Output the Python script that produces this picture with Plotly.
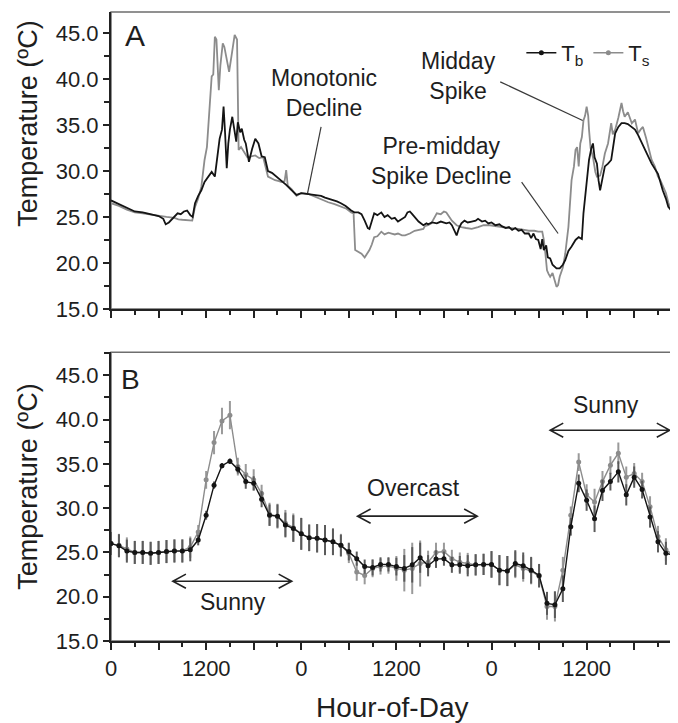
import plotly.graph_objects as go

# ---------------- Panel A: raw time series ----------------
hours_tb_a = [0.0, 1.0, 2.0, 3.0, 4.0, 5.0, 6.0, 6.6, 6.9, 7.3, 7.6, 8.0, 8.4, 8.8, 9.2, 9.6, 10.0, 10.3,
              10.6, 11.0, 11.4, 11.8, 12.2, 12.7, 13.1, 13.4, 13.7, 14.0, 14.2, 14.4, 14.6, 14.8, 15.0, 15.3,
              15.6, 15.8, 16.0, 16.3, 16.5, 16.8, 17.0, 17.4, 17.8, 18.2, 18.6, 19.0, 19.4, 19.8, 20.3, 20.7,
              21.1, 21.5, 22.1, 22.8, 23.4, 24.0, 24.9, 25.7, 26.5, 27.0, 27.4, 28.0, 28.5, 29.0, 29.6, 30.3,
              30.7, 31.2, 31.6, 32.0, 32.4, 32.6, 32.9, 33.2, 33.6, 34.1, 34.5, 34.9, 35.4, 35.8, 36.2, 36.6,
              37.1, 37.4, 37.7, 38.0, 38.3, 38.8, 39.4, 39.8, 40.0, 40.5, 41.1, 41.6, 42.3, 42.7, 43.0, 43.4,
              43.6, 43.9, 44.2, 44.6, 45.0, 45.5, 46.0, 46.3, 46.8, 47.2, 47.6, 48.0, 48.5, 49.0, 49.3, 49.8,
              50.2, 50.6, 51.0, 51.4, 51.8, 52.2, 52.7, 53.0, 53.3, 53.6, 53.9, 54.2, 54.4, 54.6, 54.9, 55.1,
              55.4, 55.7, 56.0, 56.2, 56.6, 57.0, 57.3, 57.7, 58.1, 58.6, 59.0, 59.4, 59.6, 60.0, 60.3, 60.6,
              60.8, 61.0, 61.3, 61.5, 61.7, 62.0, 62.3, 62.7, 63.1, 63.6, 64.0, 64.4, 64.8, 65.2, 65.7, 66.1,
              66.5, 66.8, 67.1, 67.6, 68.2, 68.6, 69.0, 69.3, 69.6, 70.0, 70.3, 70.6, 70.9, 71.2, 71.5]
tb_a = [26.8, 26.4, 26.0, 25.6, 25.5, 25.3, 25.1, 24.8, 24.2, 24.4, 24.7, 25.0, 25.4, 25.3, 25.6, 25.7, 25.2, 25.0,
        26.5, 27.3, 27.9, 28.8, 29.3, 29.9, 29.4, 31.5, 33.5, 34.5, 37.0, 34.0, 30.3, 33.0, 34.5, 35.9,
        34.5, 33.2, 35.3, 34.2, 34.6, 33.4, 33.0, 31.0, 32.4, 33.5, 33.0, 31.6, 31.5, 30.0, 29.8, 29.5,
        29.3, 29.0, 28.5, 27.9, 27.4, 27.6, 27.5, 27.4, 27.3, 27.1, 27.0, 26.9, 26.7, 26.5, 26.2, 25.7,
        25.5, 25.5, 25.3, 24.6, 23.8, 23.7, 24.6, 25.4, 25.2, 25.5, 25.0, 25.2, 24.8, 24.9, 24.5, 24.7,
        25.0, 25.5, 25.6, 25.3, 25.0, 24.5, 24.1, 24.3, 24.2, 24.4, 24.3, 24.5, 24.3, 24.4, 24.1, 23.4,
        23.0, 23.8, 24.3, 24.6, 24.4, 24.5, 24.6, 24.8, 24.5, 24.6, 24.3, 24.4, 24.1, 24.2, 24.0, 23.8,
        23.9, 23.6, 23.8, 23.5, 23.6, 23.2, 23.2, 22.7, 23.2, 22.6, 22.5, 21.5, 22.6, 21.4, 21.9, 20.6,
        20.5, 19.8, 19.6, 19.4, 19.4, 19.8, 20.3, 21.3, 21.8, 22.5, 22.8, 22.6, 25.4, 29.0, 31.2, 32.5,
        33.0, 31.5, 30.8, 29.0, 27.9, 29.2, 30.5, 30.8, 31.2, 34.1, 34.8, 35.2, 35.2, 35.1, 34.8, 34.5,
        33.9, 33.4, 32.8, 31.9, 30.8, 30.3, 29.7, 28.8, 27.9, 27.0, 26.1, 25.8, 25.4, 25.8, 26.1]

hours_ts_a = [0.0, 1.0, 2.0, 3.0, 4.0, 5.0, 6.0, 7.0, 8.0, 8.5, 9.0, 9.7, 10.25, 10.6, 11.0, 11.4, 11.8, 12.1,
              12.4, 12.7, 12.9, 13.1, 13.3, 13.6, 13.8, 14.1, 14.3, 14.6, 14.9, 15.2, 15.6, 15.9, 16.1, 16.4,
              16.8, 17.2, 17.7, 18.2, 18.7, 19.2, 19.8, 20.3, 20.7, 21.2, 21.5, 21.9, 22.1, 22.3, 22.8, 23.4,
              24.0, 24.9, 25.7, 26.5, 27.4, 28.2, 29.0, 29.7, 30.3, 30.6, 30.8, 31.2, 31.6, 32.0, 32.3, 32.6,
              32.9, 33.2, 33.6, 34.1, 34.5, 35.0, 35.4, 35.8, 36.2, 36.7, 37.1, 37.7, 38.3, 38.8, 39.4, 39.6,
              40.0, 40.4, 40.8, 41.1, 41.6, 42.0, 42.3, 42.7, 43.0, 43.6, 44.2, 44.8, 45.5, 46.3, 47.0, 47.8,
              48.5, 49.3, 50.2, 51.4, 52.2, 52.7, 53.4, 53.9, 54.4, 54.6, 54.8, 55.0, 55.2, 55.4, 55.7, 56.0,
              56.2, 56.4, 56.6, 57.0, 57.3, 57.7, 58.1, 58.4, 58.6, 58.8, 59.0, 59.2, 59.4, 59.6, 59.8, 60.0,
              60.2, 60.3, 60.5, 60.8, 61.1, 61.3, 61.7, 62.0, 62.3, 62.7, 63.1, 63.3, 63.6, 64.0, 64.4, 64.6,
              64.8, 65.2, 65.7, 66.1, 66.5, 66.8, 67.1, 67.5, 68.2, 68.6, 69.0, 69.3, 69.6, 70.0, 70.3, 70.6,
              70.9, 71.2, 71.5]
ts_a = [26.5, 26.2, 25.8, 25.5, 25.4, 25.25, 25.1, 25.0, 24.9, 24.75, 24.7, 24.6, 24.6, 26.1, 27.0, 28.3, 31.2, 32.6,
        36.0, 40.3, 40.5, 44.6, 44.3, 38.8, 41.5, 43.9, 43.5, 42.0, 40.8, 42.5, 44.8, 44.3, 32.3, 32.6,
        32.1, 31.5, 31.6, 31.7, 31.4, 31.5, 29.4, 29.2, 29.0, 28.9, 28.8, 28.9, 30.1, 28.4, 28.0, 27.3,
        27.6, 27.5, 27.2, 26.9, 26.6, 26.4, 26.1, 25.9, 25.5, 25.4, 21.4, 21.2, 21.0, 20.6, 21.0, 21.4,
        22.0, 22.8, 22.9, 23.4, 23.1, 23.3, 23.2, 23.1, 23.2, 23.0, 23.0, 23.2, 23.5, 23.6, 23.7, 24.0,
        24.1, 24.3, 25.0, 25.4, 25.3, 25.6, 25.5, 24.9, 24.6, 24.1, 23.9, 23.8, 23.7, 23.9, 24.1, 24.1,
        24.0, 23.9, 23.8, 23.7, 23.6, 23.5, 23.5, 23.4, 23.4, 22.5, 21.0, 19.2, 18.8, 18.5, 18.9, 17.8,
        17.4, 17.6, 18.5, 19.5, 21.0, 23.9, 29.0, 30.5, 32.3, 32.6, 30.5, 33.0, 33.7, 35.5, 36.0, 37.0,
        36.0, 34.5, 32.5, 31.5, 29.9, 29.4, 29.5, 30.5, 31.9, 33.0, 35.2, 34.0, 34.5, 35.8, 37.4, 36.5,
        35.9, 36.4, 35.2, 35.6, 34.1, 34.5, 34.8, 33.6, 31.2, 30.5, 29.4, 29.0, 28.3, 27.6, 26.6, 25.8,
        25.0, 25.2, 25.5]

# ---------------- Panel B: hourly means +/- error ----------------
hours_b = list(range(72))
tb_b = [26.0, 25.75, 25.15, 25.0, 25.0, 24.9, 25.0, 25.1, 25.15, 25.15, 25.3, 26.4, 29.2, 32.6, 34.8, 35.3,
        34.4, 33.0, 32.8, 31.0, 29.2, 29.1, 28.1, 27.7,
        27.1, 26.65, 26.6, 26.4, 26.2, 25.8, 25.1, 24.3, 23.4, 23.3, 23.65, 23.65, 23.4, 23.2, 23.6, 24.4,
        23.5, 24.25, 24.3, 23.6, 23.6, 23.5, 23.6, 23.65,
        23.65, 23.0, 22.9, 23.75, 23.5, 23.0, 22.4, 19.25, 19.1, 20.9, 27.9, 32.8, 30.9, 28.8, 32.0, 33.0,
        34.1, 31.5, 33.5, 32.1, 29.0, 26.2, 24.9, 24.7]
tb_b_err = [1.3, 1.3, 1.3, 1.3, 1.3, 1.3, 1.3, 1.3, 1.3, 1.3, 1.3, 0.6, 0.5, 0.4, 0.3, 0.3,
            0.5, 0.8, 0.8, 0.9, 1.2, 1.3, 1.4, 1.5,
            1.8, 1.5, 1.6, 1.7, 1.5, 1.2, 1.0, 0.8, 0.8, 0.9, 0.8, 0.8, 1.0, 1.5, 2.0, 1.7,
            1.2, 1.0, 0.8, 0.9, 1.0, 1.2, 1.2, 1.2,
            1.5, 1.7, 1.7, 1.5, 1.5, 1.5, 1.3, 1.3, 1.5, 1.5, 1.0, 1.0, 1.2, 1.5, 1.2, 1.0,
            1.2, 1.2, 1.2, 1.0, 1.2, 1.2, 1.3, 1.5]
ts_b = [26.0, 25.8, 25.4, 25.0, 25.0, 24.9, 25.0, 25.1, 25.2, 25.2, 25.6, 27.3, 33.2, 37.4, 39.85, 40.5,
        34.7, 33.8, 33.2, 31.65, 29.3, 29.1, 28.3, 27.8,
        27.1, 26.65, 26.6, 26.4, 26.2, 25.8, 24.9, 22.8, 22.4, 23.2, 23.4, 23.5, 23.2, 23.0, 23.2, 23.75,
        23.9, 25.0, 25.1, 24.3, 23.9, 23.75, 23.6, 23.65,
        23.65, 23.0, 22.9, 23.6, 23.2, 22.9, 22.3, 18.9, 18.9, 23.0, 29.2, 35.2, 31.5, 30.7, 33.0, 34.85,
        36.2, 33.5, 33.9, 33.0, 30.15, 26.8, 25.3, 24.7]
ts_b_err = [1.3, 1.3, 1.3, 1.3, 1.3, 1.3, 1.3, 1.3, 1.3, 1.3, 1.2, 0.8, 1.0, 1.3, 1.5, 1.6,
            1.0, 1.2, 1.2, 1.0, 1.3, 1.4, 1.5, 1.6,
            1.8, 1.5, 1.6, 1.7, 1.5, 1.3, 1.1, 1.0, 1.0, 1.0, 0.9, 0.9, 1.4, 2.4, 2.9, 2.6,
            1.3, 1.1, 1.0, 1.0, 1.1, 1.2, 1.2, 1.2,
            1.5, 1.7, 1.7, 1.5, 1.5, 1.5, 1.3, 1.5, 1.7, 1.5, 1.0, 1.0, 1.2, 1.5, 1.2, 1.0,
            1.2, 1.2, 1.2, 1.0, 1.2, 1.2, 1.3, 1.5]

# hour value -> clock label shown on the axis
x_label_alias = {"12": "1200", "24": "0", "36": "1200", "48": "0", "60": "1200"}
y_tickvals = [15, 20, 25, 30, 35, 40, 45]

BLACK = "#141414"
GRAY = "#8c8c8c"
FONT = "Liberation Sans"
TXT = "#1e1e1e"

fig = go.Figure()

# Panel A
fig.add_trace(go.Scatter(x=hours_ts_a, y=ts_a, mode="lines", line=dict(color=GRAY, width=1.8),
                         xaxis="x", yaxis="y", showlegend=False))
fig.add_trace(go.Scatter(x=hours_tb_a, y=tb_a, mode="lines", line=dict(color=BLACK, width=1.8),
                         xaxis="x", yaxis="y", showlegend=False))

# Panel B
fig.add_trace(go.Scatter(x=hours_b, y=ts_b, mode="lines+markers", name="T<sub>s</sub>",
                         line=dict(color=GRAY, width=1.4), marker=dict(color=GRAY, size=5),
                         error_y=dict(type="data", array=ts_b_err, color="#9a9a9a", thickness=2, width=0),
                         xaxis="x2", yaxis="y2", legendrank=2))
fig.add_trace(go.Scatter(x=hours_b, y=tb_b, mode="lines+markers", name="T<sub>b</sub>",
                         line=dict(color=BLACK, width=1.4), marker=dict(color=BLACK, size=5),
                         error_y=dict(type="data", array=tb_b_err, color="#5a5a5a", thickness=2, width=0),
                         xaxis="x2", yaxis="y2", legendrank=1))

xaxis_common = dict(range=[0, 71.4], tickmode="linear", tick0=0, dtick=6, ticklabelstep=2,
                    labelalias=x_label_alias,
                    ticks="outside", ticklen=7, tickwidth=1.5, tickcolor="#222",
                    minor=dict(dtick=3, tick0=0, ticks="outside", ticklen=4, tickwidth=1.5, tickcolor="#222"),
                    showline=True, linecolor="#222", linewidth=2, showgrid=False, zeroline=False,
                    tickfont=dict(family=FONT, size=22, color=TXT))
yaxis_common = dict(tickmode="array", tickvals=y_tickvals, tickformat=".1f",
                    ticks="outside", ticklen=6, tickwidth=1.5, tickcolor="#222",
                    minor=dict(dtick=2.5, tick0=0, ticks="outside", ticklen=5, tickwidth=1.5, tickcolor="#222"),
                    showline=True, linecolor="#222", linewidth=2, showgrid=False, zeroline=False,
                    tickfont=dict(family=FONT, size=22, color=TXT))

# page body has an 8px default margin: size/margins compensate so the plot sits where the reference has it
fig.update_layout(
    width=670, height=715,
    margin=dict(l=103, r=1, t=4, b=82),
    paper_bgcolor="white", plot_bgcolor="white",
    font=dict(family=FONT, color=TXT),
    xaxis=dict(xaxis_common, anchor="y", showticklabels=False),
    yaxis=dict(yaxis_common, domain=[0.528, 1.0], range=[15, 47.3], anchor="x"),
    xaxis2=dict(xaxis_common, anchor="y2"),
    yaxis2=dict(yaxis_common, domain=[0.0, 0.459], range=[15, 47.6], anchor="x2"),
    legend=dict(orientation="h", x=0.725, y=0.935, xanchor="left", yanchor="middle",
                font=dict(family=FONT, size=22, color=TXT), itemwidth=30,
                bgcolor="rgba(0,0,0,0)", traceorder="normal", tracegroupgap=0, itemclick=False),
)

shapes = []
# gray frames
for xr, yr in (("x domain", "y domain"), ("x2 domain", "y2 domain")):
    shapes.append(dict(type="rect", xref=xr, yref=yr, x0=0, x1=1, y0=0, y1=1,
                       line=dict(color="#6e6e6e", width=1.5), layer="below"))
# pointer lines panel A
for (x0, y0, x1, y1) in ((26.5, 34.8, 24.8, 27.6), (49.1, 39.7, 59.5, 35.5), (51.8, 28.8, 56.4, 23.2)):
    shapes.append(dict(type="line", xref="x", yref="y", x0=x0, y0=y0, x1=x1, y1=y1,
                       line=dict(color="#3a3a3a", width=1.2)))
# double-headed arrows panel B
dx, dy = 1.65, 0.8
for (xa, xb, yv) in ((7.8, 22.8, 21.75), (31.1, 46.2, 29.1), (55.4, 70.5, 38.8)):
    path = (f"M {xa},{yv} L {xb},{yv} "
            f"M {xa+dx},{yv+dy} L {xa},{yv} L {xa+dx},{yv-dy} "
            f"M {xb-dx},{yv+dy} L {xb},{yv} L {xb-dx},{yv-dy}")
    shapes.append(dict(type="path", xref="x2", yref="y2", path=path,
                       line=dict(color="#222", width=1.6)))
fig.update_layout(shapes=shapes)

ann = []
def txt(text, x, y, xref, yref, size, **kw):
    ann.append(dict(text=text, x=x, y=y, xref=xref, yref=yref, showarrow=False,
                    xanchor="center", yanchor="middle",
                    font=dict(family=FONT, size=size, color=TXT), **kw))

txt("A", 3.0, 44.7, "x", "y", 30)
txt("B", 2.5, 44.5, "x2", "y2", 28)
txt("Monotonic<br>Decline", 26.9, 38.5, "x", "y", 23)
txt("Midday<br>Spike", 43.8, 40.3, "x", "y", 23)
txt("Pre-midday<br>Spike Decline", 41.7, 31.1, "x", "y", 23)
txt("Sunny", 15.4, 19.4, "x2", "y2", 23)
txt("Overcast", 38.2, 32.25, "x2", "y2", 23)
txt("Sunny", 62.4, 41.7, "x2", "y2", 23)
txt("Temperature (ºC)", -0.147, 0.822, "paper", "paper", 27, textangle=-90)
txt("Temperature (ºC)", -0.147, 0.245, "paper", "paper", 27, textangle=-90)
txt("Hour-of-Day", 0.496, -0.105, "paper", "paper", 28)
fig.update_layout(annotations=ann)

fig.write_html("out.html")
